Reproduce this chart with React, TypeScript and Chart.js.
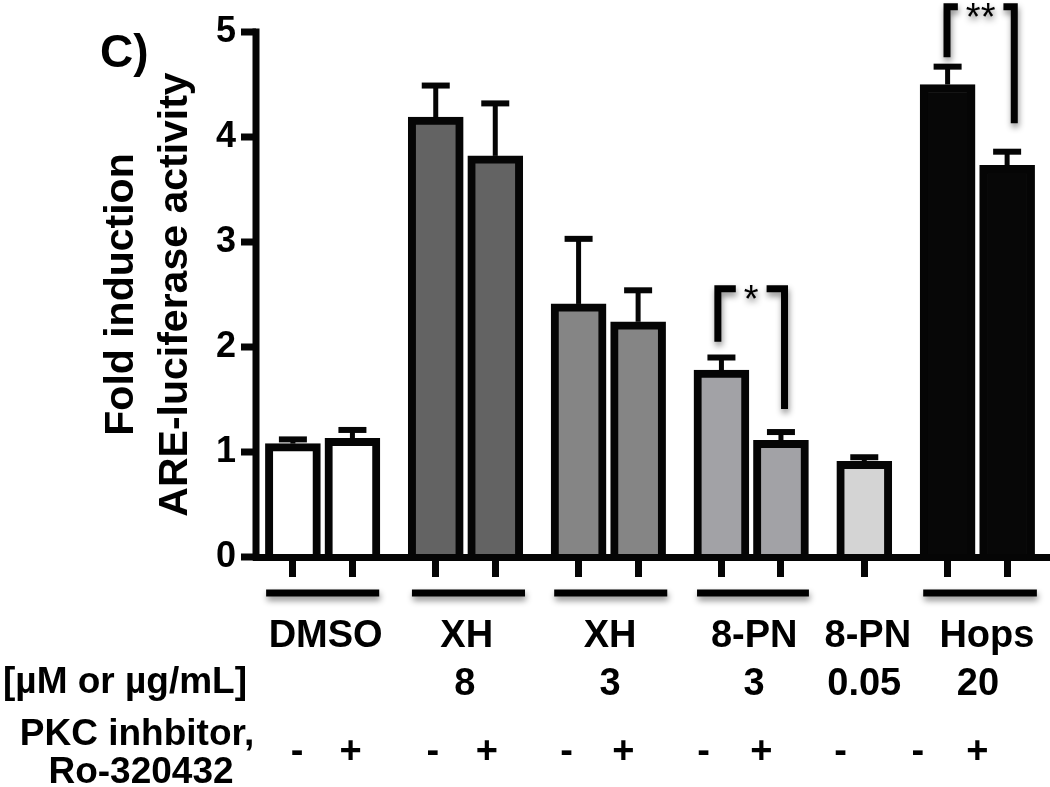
import React, { useEffect, useRef } from 'react';
import { Chart, registerables } from 'chart.js';

Chart.register(...registerables);

// ---- data ----
const treatments = ['DMSO -', 'DMSO +', 'XH 8 -', 'XH 8 +', 'XH 3 -', 'XH 3 +', '8-PN 3 -', '8-PN 3 +', '8-PN 0.05 -', 'Hops 20 -', 'Hops 20 +'];
const slots = [0, 1, 2.4, 3.4, 4.8, 5.8, 7.2, 8.2, 9.6, 11, 12];
const foldInduction = [1.08, 1.13, 4.19, 3.82, 2.41, 2.24, 1.78, 1.11, 0.91, 4.5, 3.73];
const sem = [0.04, 0.08, 0.3, 0.5, 0.62, 0.3, 0.12, 0.08, 0.04, 0.17, 0.13];
const barColors = ['#ffffff', '#ffffff', '#636363', '#636363', '#858585', '#858585', '#a2a2a6', '#a2a2a6', '#d4d4d4', '#070707', '#070707'];
const yTicks = [0, 1, 2, 3, 4, 5];

const groupLabels = ['DMSO', 'XH', 'XH', '8-PN', '8-PN', 'Hops'];
const groupLabelSlots = [0.55, 2.92, 5.33, 7.75, 9.66, 11.66];
const doseLabels = ['8', '3', '3', '0.05', '20'];
const doseSlots = [2.89, 5.33, 7.75, 9.6, 11.51];
const pkcSigns = ['-', '+', '-', '+', '-', '+', '-', '+', '-', '-', '+'];
const pkcSlots = [0.07, 0.97, 2.35, 3.26, 4.6, 5.55, 6.9, 7.87, 9.2, 10.5, 11.5];
const underlineStart = [-0.45, 2.0, 4.39, 6.79, 10.59];
const underlineEnd = [1.45, 3.9, 6.29, 8.67, 12.5];

const sigLabels = ['*', '**'];
const sigLeft = [7.14, 10.99];
const sigRight = [8.26, 12.12];
const sigTop = [2.555, 5.24];
const sigLeftEnd = [2.05, 4.76];
const sigRightEnd = [1.41, 4.13];

const FONT = "'Liberation Sans', Arial, Helvetica, sans-serif";
const INK = '#050505';

const axisAndErrorPlugin = {
  id: 'axisAndErrors',
  afterDatasetsDraw(chart: any) {
    const { ctx, scales } = chart;
    const xs = scales.x;
    const ys = scales.y;
    const area = chart.chartArea;
    ctx.save();
    ctx.strokeStyle = INK;
    ctx.fillStyle = INK;
    ctx.lineCap = 'butt';

    // y axis line and tick marks, positioned by the y scale
    const ax = area.left;
    const yTopPx = ys.getPixelForValue(yTicks[yTicks.length - 1]);
    const yBotPx = ys.getPixelForValue(yTicks[0]);
    ctx.fillRect(ax - 3.5, yTopPx - 3.5, 7, yBotPx - yTopPx + 7);
    yTicks.forEach((v) => {
      const y = ys.getPixelForValue(v);
      ctx.fillRect(ax - 15, y - 3.5, 15, 7);
    });

    // error bars (upper only)
    slots.forEach((s, i) => {
      const x = xs.getPixelForValue(s);
      const yMean = ys.getPixelForValue(foldInduction[i]);
      const yTop = ys.getPixelForValue(foldInduction[i] + sem[i]);
      ctx.lineWidth = 5;
      ctx.beginPath();
      ctx.moveTo(x, yMean);
      ctx.lineTo(x, yTop);
      ctx.stroke();
      ctx.lineWidth = 6;
      ctx.beginPath();
      ctx.moveTo(x - 14, yTop);
      ctx.lineTo(x + 14, yTop);
      ctx.stroke();
    });
    ctx.restore();
  },
};

const annotationPlugin = {
  id: 'annotations',
  afterDraw(chart: any) {
    const { ctx, scales } = chart;
    const xs = scales.x;
    const ys = scales.y;
    const area = chart.chartArea;
    ctx.save();
    ctx.fillStyle = '#000';

    // panel letter
    ctx.font = `bold 46px ${FONT}`;
    ctx.textAlign = 'left';
    ctx.textBaseline = 'alphabetic';
    ctx.fillText('C)', 100, 67);

    // y axis title (two lines, rotated)
    const midY = (area.top + area.bottom) / 2;
    ctx.font = `bold 41px ${FONT}`;
    ctx.textAlign = 'center';
    [['Fold induction', 133], ['ARE-luciferase activity', 187]].forEach(([t, bx]) => {
      ctx.save();
      ctx.translate(bx as number, midY);
      ctx.rotate(-Math.PI / 2);
      ctx.fillText(t as string, 0, 0);
      ctx.restore();
    });

    // group underlines with shadow
    ctx.save();
    ctx.shadowColor = 'rgba(0,0,0,0.45)';
    ctx.shadowBlur = 6;
    ctx.shadowOffsetX = 1;
    ctx.shadowOffsetY = 4;
    ctx.strokeStyle = '#000';
    ctx.lineWidth = 7;
    ctx.lineCap = 'butt';
    underlineStart.forEach((s, i) => {
      ctx.beginPath();
      ctx.moveTo(xs.getPixelForValue(s), 593);
      ctx.lineTo(xs.getPixelForValue(underlineEnd[i]), 593);
      ctx.stroke();
    });

    // significance brackets
    ctx.lineJoin = 'miter';
    sigLabels.forEach((lab, i) => {
      const xl = xs.getPixelForValue(sigLeft[i]);
      const xr = xs.getPixelForValue(sigRight[i]);
      const yt = ys.getPixelForValue(sigTop[i]);
      const cx = (xl + xr) / 2;
      ctx.font = `38px ${FONT}`;
      const w = ctx.measureText(lab).width;
      const half = w / 2 + 8;
      ctx.beginPath();
      ctx.moveTo(xl, ys.getPixelForValue(sigLeftEnd[i]));
      ctx.lineTo(xl, yt);
      ctx.lineTo(cx - half, yt);
      ctx.stroke();
      ctx.beginPath();
      ctx.moveTo(cx + half, yt);
      ctx.lineTo(xr, yt);
      ctx.lineTo(xr, ys.getPixelForValue(sigRightEnd[i]));
      ctx.stroke();
      ctx.textAlign = 'center';
      ctx.textBaseline = 'alphabetic';
      ctx.fillText(lab, cx, yt + 23);
    });
    ctx.restore();

    // bottom labels
    ctx.font = `bold 38px ${FONT}`;
    ctx.textAlign = 'center';
    ctx.textBaseline = 'alphabetic';
    groupLabels.forEach((t, i) => ctx.fillText(t, xs.getPixelForValue(groupLabelSlots[i]), 647));
    doseLabels.forEach((t, i) => ctx.fillText(t, xs.getPixelForValue(doseSlots[i]), 695));
    pkcSigns.forEach((t, i) => ctx.fillText(t, xs.getPixelForValue(pkcSlots[i]), 763));

    ctx.font = `bold 37px ${FONT}`;
    ctx.textAlign = 'left';
    ctx.fillText('[µM or µg/mL]', 3, 693);
    ctx.textAlign = 'center';
    ctx.fillText('PKC inhbitor,', 137, 745);
    ctx.fillText('Ro-320432', 141, 783);
    ctx.restore();
  },
};

export default function App() {
  const canvasRef = useRef<HTMLCanvasElement | null>(null);

  useEffect(() => {
    if (!canvasRef.current) return;
    const chart = new Chart(canvasRef.current, {
      type: 'bar',
      data: {
        labels: treatments,
        datasets: [
          {
            label: 'Fold induction',
            data: slots.map((s, i) => ({ x: s, y: foldInduction[i] })),
            backgroundColor: barColors,
            borderColor: INK,
            borderWidth: 8,
            borderSkipped: 'start',
            barThickness: 55,
          },
        ],
      },
      options: {
        responsive: false,
        animation: false,
        devicePixelRatio: 1,
        layout: { padding: { top: 32, right: 3, left: 0, bottom: 0 } },
        plugins: {
          legend: { display: false },
          tooltip: { enabled: false },
          title: { display: false },
        },
        scales: {
          x: {
            type: 'linear',
            min: -0.62,
            max: 12.67,
            offset: false,
            afterBuildTicks: (scale: any) => {
              scale.ticks = slots.map((v) => ({ value: v }));
            },
            afterFit: (scale: any) => {
              scale.height = 230;
            },
            ticks: { display: false, autoSkip: false },
            grid: {
              offset: false,
              drawOnChartArea: false,
              drawTicks: true,
              tickLength: 20,
              lineWidth: 7,
              color: INK,
              z: 1,
            },
            border: { display: true, color: INK, width: 7, z: 1 },
          },
          y: {
            type: 'linear',
            min: 0,
            max: 5,
            afterBuildTicks: (scale: any) => {
              scale.ticks = yTicks.map((v) => ({ value: v }));
            },
            afterFit: (scale: any) => {
              scale.width = 256;
            },
            ticks: {
              color: '#000',
              padding: 6,
              font: { family: FONT, size: 36, weight: 'bold' },
            },
            grid: {
              display: false,
              drawOnChartArea: false,
              drawTicks: true,
              tickLength: 14,
            },
            border: { display: false },
          },
        },
      },
      plugins: [axisAndErrorPlugin, annotationPlugin],
    } as any);
    return () => chart.destroy();
  }, []);

  return (
    <div style={{ position: 'fixed', left: 0, top: 0, width: 1050, height: 787, background: '#fff' }}>
      <canvas ref={canvasRef} width={1050} height={787} style={{ display: 'block' }} />
    </div>
  );
}
